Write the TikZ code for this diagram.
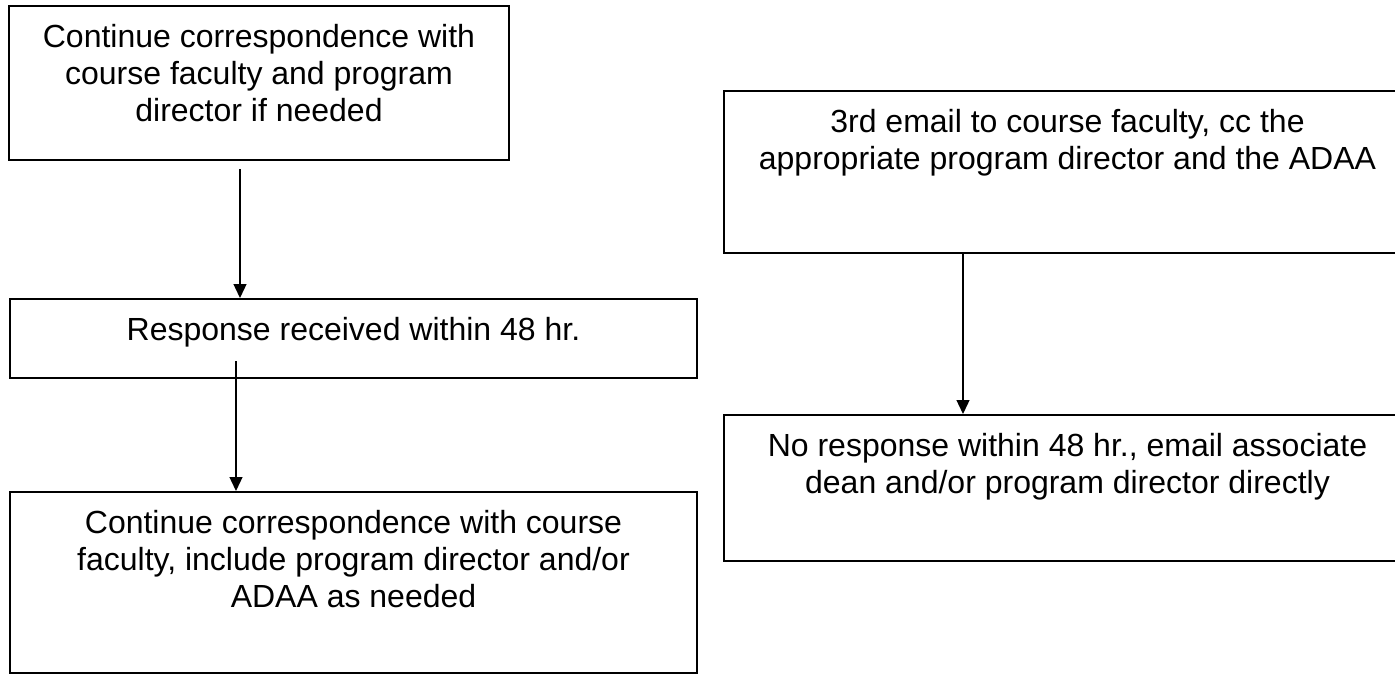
\documentclass[tikz,border=0pt]{standalone}
\usepackage{fontspec}
\setmainfont{Liberation Sans}
\usetikzlibrary{arrows.meta}
\begin{document}
\begin{tikzpicture}[x=1pt,y=-1pt,
  box/.style={draw=black, line width=2pt, inner sep=0pt, anchor=north west},
  txt/.style={anchor=north, inner sep=0pt, align=center, font=\fontsize{32}{36.8}\selectfont},
  arr/.style={line width=1.3pt, -{Triangle[length=14pt,width=13pt]}}]
\useasboundingbox (0,0) rectangle (1395,673);
\clip (0,0) rectangle (1395,673);
% left column
\node[box, minimum width=500pt, minimum height=154pt] (A) at (8,5) {};
\node[box, minimum width=687pt, minimum height=79pt] (B) at (9,298) {};
\node[box, minimum width=687pt, minimum height=181pt] (C) at (9,491) {};
% right column
\node[box, minimum width=687pt, minimum height=162pt] (D) at (723,90) {};
\node[box, minimum width=687pt, minimum height=146pt] (E) at (723,414) {};
% texts
\node[txt] (At) at ([yshift=-19.5pt]A.north) {Continue correspondence with\\course faculty and program\\director if needed};
\node[txt] (Bt) at ([yshift=-19.5pt]B.north) {Response received within 48 hr.};
\node[txt] (Ct) at ([yshift=-19.5pt]C.north) {Continue correspondence with course\\faculty, include program director and/or\\ADAA as needed};
\node[txt] (Dt) at ([yshift=-19.5pt]D.north) {3rd email to course faculty, cc the\\appropriate program director and the ADAA};
\node[txt] (Et) at ([yshift=-19.5pt]E.north) {No response within 48 hr., email associate\\dean and/or program director directly};
% connectors
\draw[arr] ([shift={(232,8)}]A.south west) -- ([xshift=231pt]B.north west);
\draw[arr] ([shift={(227,-18)}]B.south west) -- ([xshift=227pt]C.north west);
\draw[arr] ([xshift=240pt]D.south west) -- ([xshift=240pt]E.north west);
\end{tikzpicture}
\end{document}
